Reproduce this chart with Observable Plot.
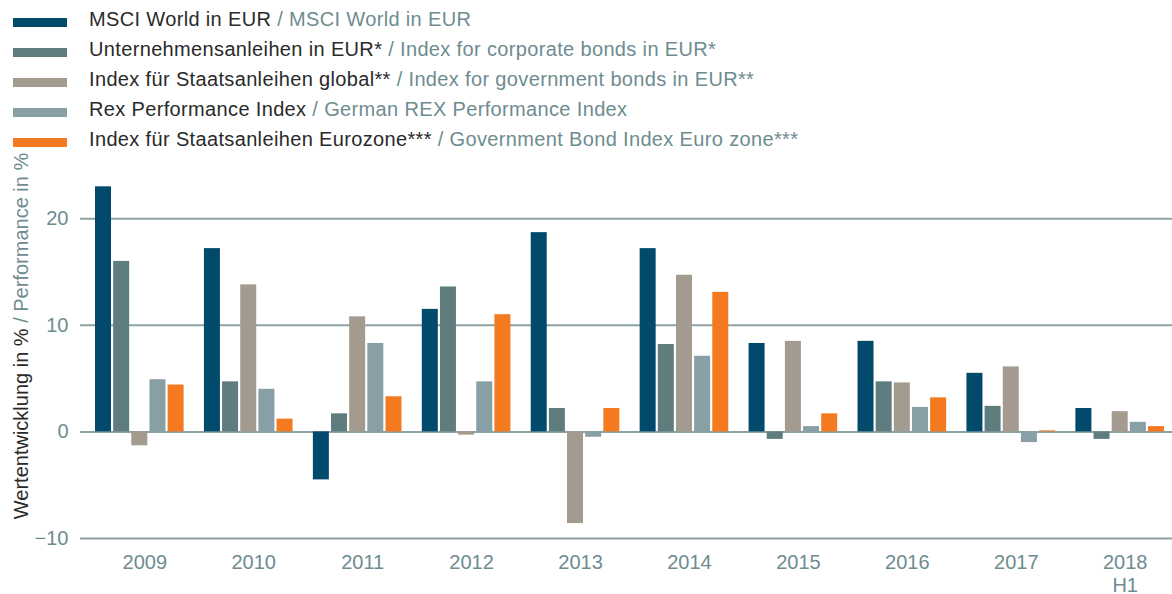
<!DOCTYPE html>
<html>
<head>
<meta charset="utf-8">
<script src="https://cdn.jsdelivr.net/npm/d3@7"></script>
<script src="https://cdn.jsdelivr.net/npm/@observablehq/plot@0.6"></script>
<style>
  html, body { margin: 0; padding: 0; background: #fff; }
  body { width: 1172px; height: 594px; overflow: hidden; font-family: "Liberation Sans", Arial, Helvetica, sans-serif; }
  #legend { height: 155px; box-sizing: border-box; padding-top: 4px; }
  .row { display: flex; align-items: center; height: 30px; line-height: 30px; font-size: 20px; white-space: nowrap; letter-spacing: 0.35px; }
  .sw { width: 54px; height: 9px; margin-left: 13px; margin-right: 22px; position: relative; top: 3px; }
  .de { color: #2a2a2a; }
  .en { color: #6e8c90; }
  svg { display: block; }
</style>
</head>
<body>
<div id="legend"></div>
<div id="chart"></div>
<script>
// ---- data ----
const years = ["2009", "2010", "2011", "2012", "2013", "2014", "2015", "2016", "2017", "2018"];
const yearLabels = ["2009", "2010", "2011", "2012", "2013", "2014", "2015", "2016", "2017", "2018\nH1"];

const seriesKeys = ["msci", "corp", "govGlobal", "rex", "govEuro"];
const seriesDe = [
  "MSCI World in EUR",
  "Unternehmensanleihen in EUR*",
  "Index für Staatsanleihen global**",
  "Rex Performance Index",
  "Index für Staatsanleihen Eurozone***"
];
const seriesEn = [
  "MSCI World in EUR",
  "Index for corporate bonds in EUR*",
  "Index for government bonds in EUR**",
  "German REX Performance Index",
  "Government Bond Index Euro zone***"
];

const msci      = [23.0, 17.2, -4.5, 11.5, 18.7, 17.2, 8.3, 8.5, 5.5, 2.2];
const corp      = [16.0, 4.7, 1.7, 13.6, 2.2, 8.2, -0.7, 4.7, 2.4, -0.7];
const govGlobal = [-1.3, 13.8, 10.8, -0.3, -8.6, 14.7, 8.5, 4.6, 6.1, 1.9];
const rex       = [4.9, 4.0, 8.3, 4.7, -0.5, 7.1, 0.5, 2.3, -1.0, 0.9];
const govEuro   = [4.4, 1.2, 3.3, 11.0, 2.2, 13.1, 1.7, 3.2, 0.1, 0.5];

const yTicks = [-10, 0, 10, 20];

// ---- styles ----
const colors = ["#024a6c", "#5f7c7e", "#a39a90", "#88a0a5", "#f47a20"];
const gray = "#6e8c90";
const font = '"Liberation Sans", Arial, Helvetica, sans-serif';

// ---- build ----
const seriesValues = [msci, corp, govGlobal, rex, govEuro];
const data = years.flatMap((y, i) =>
  seriesKeys.map((s, j) => ({ year: y, series: s, key: y + "|" + s, value: seriesValues[j][i] }))
);
const xDomain = years.flatMap((y, i) => {
  const keys = seriesKeys.map(s => y + "|" + s);
  return i < years.length - 1 ? [...keys, y + "|gap"] : keys;
});

// legend
const legend = d3.select("#legend");
seriesKeys.forEach((s, j) => {
  const row = legend.append("div").attr("class", "row");
  row.append("div").attr("class", "sw").style("background", colors[j]);
  row.append("span").attr("class", "de").text(seriesDe[j]);
  row.append("span").attr("class", "en").html("&nbsp;/ " + seriesEn[j]);
});

const chart = Plot.plot({
  width: 1172,
  height: 439,
  marginLeft: 80,
  marginRight: 0,
  marginTop: 10,
  marginBottom: 56,
  style: { fontFamily: font, fontSize: "20px", color: gray, background: "white", overflow: "visible" },
  x: { domain: xDomain, range: [95, 1164], paddingInner: 0.1187, paddingOuter: 0, round: false, axis: null },
  y: { domain: [-10, 25], ticks: yTicks, tickSize: 0, tickPadding: 12, label: null },
  color: { domain: seriesKeys, range: colors },
  marks: [
    Plot.ruleY(yTicks, { stroke: "#8ea2a5", strokeWidth: 2 }),
    Plot.barY(data, { x: "key", y: "value", fill: "series" }),
    Plot.text(years, {
      x: y => y + "|" + seriesKeys[2],
      frameAnchor: "bottom",
      text: (d, i) => yearLabels[i],
      lineAnchor: "top",
      lineHeight: 1.15,
      dy: 14,
      dx: 5,
      fontSize: 20,
      fill: gray
    })
  ]
});

const svg = d3.select(chart);
const title = svg.append("text")
  .attr("transform", "translate(28,181) rotate(-90)")
  .attr("text-anchor", "middle")
  .attr("font-size", 20)
  .attr("font-family", font);
title.append("tspan").attr("fill", "#2a2a2a").text("Wertentwicklung in %");
title.append("tspan").attr("fill", gray).text(" / Performance in %");

document.getElementById("chart").appendChild(chart);
</script>
</body>
</html>
